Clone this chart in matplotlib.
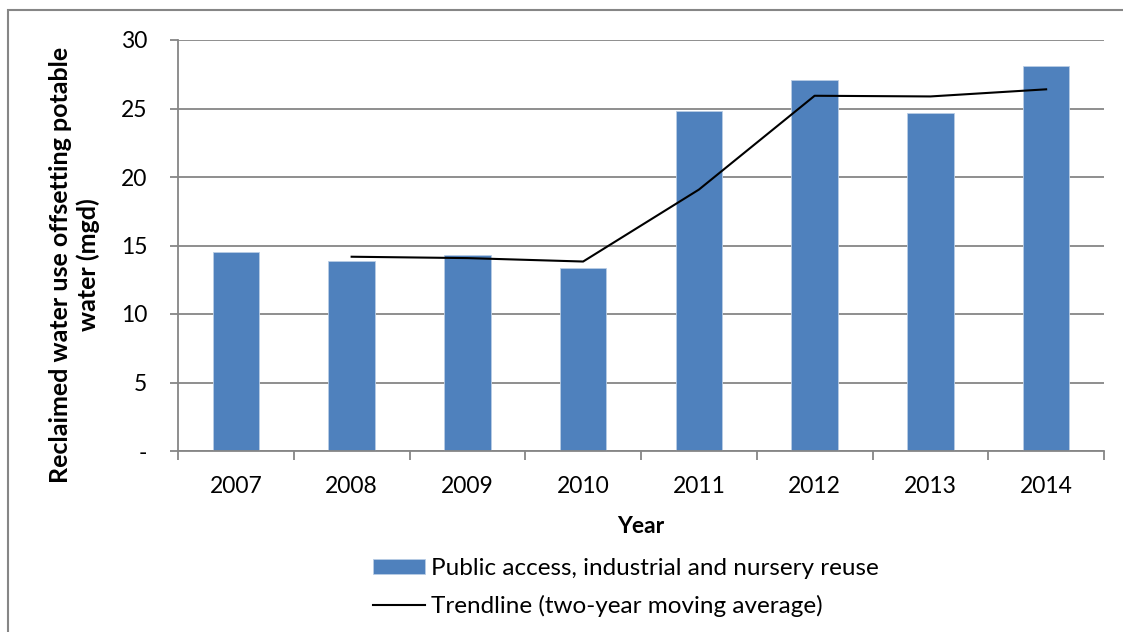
import matplotlib.pyplot as plt
import numpy as np
from matplotlib.patches import Rectangle

plt.rcParams['font.family'] = ['Lato', 'DejaVu Sans']

years = ["2007", "2008", "2009", "2010", "2011", "2012", "2013", "2014"]
reuse = [14.5, 13.85, 14.3, 13.35, 24.8, 27.05, 24.7, 28.1]
# two-year moving average (starts at 2008)
trend_years = ["2008", "2009", "2010", "2011", "2012", "2013", "2014"]
trend = [14.18, 14.08, 13.83, 19.08, 25.93, 25.88, 26.4]

grey = "#868686"
blue = "#4F81BD"
fs = 16.5

fig = plt.figure(figsize=(11.23, 6.32), dpi=100)
ax = fig.add_axes([178/1123, 1-451/632, (1104-178)/1123, 411/632])

x = np.arange(len(years))
bars = ax.bar(x, reuse, width=0.4, color=blue, edgecolor="#B9CDE5", linewidth=0.6, zorder=2,
              label="Public access, industrial and nursery reuse")
tx = [years.index(y) for y in trend_years]
line, = ax.plot(tx, trend, color="black", lw=1.5, zorder=3,
                label="Trendline (two-year moving average)")

ax.set_xlim(-0.5, len(years)-0.5)
ax.set_ylim(0, 30)
ax.set_yticks(range(0, 31, 5))
ax.set_yticklabels(["-", "5", "10", "15", "20", "25", "30"])
ax.yaxis.grid(True, color=grey, lw=1.3, zorder=0)
ax.set_xticks(x)
ax.set_xticklabels(years)
ax.set_xticks(np.arange(-0.5, len(years)), minor=True)
ax.tick_params(axis="x", which="major", length=0, pad=18, labelsize=fs)
ax.tick_params(axis="x", which="minor", length=6.5, color=grey, width=1.3, direction="out")
ax.tick_params(axis="y", length=6, color=grey, width=1.3, labelsize=fs, pad=16)

for s in ["top", "right"]:
    ax.spines[s].set_visible(False)
for s in ["left", "bottom"]:
    ax.spines[s].set_color(grey)
    ax.spines[s].set_linewidth(1.3)

ax.set_xlabel("Year", fontsize=fs, fontweight="bold", labelpad=14)
ax.set_ylabel("Reclaimed water use offsetting potable\nwater (mgd)", fontsize=18,
              fontweight="bold", linespacing=1.25)
ax.yaxis.set_label_coords((100-178)/926, (451-265)/411)

fig.legend([bars, line], [bars.get_label(), line.get_label()],
           loc="upper left", bbox_to_anchor=(373/1123, 1-558/632), frameon=False,
           fontsize=17.5, handlelength=2.15, handleheight=0.62, handletextpad=0.25,
           labelspacing=0.65, borderaxespad=0, borderpad=0)

fig.patches.append(Rectangle((8/1123, -0.1), 1.2, 1-10/632+0.1, transform=fig.transFigure,
                             fill=False, edgecolor=grey, lw=1.5))

fig.savefig("out.png", dpi=100)
